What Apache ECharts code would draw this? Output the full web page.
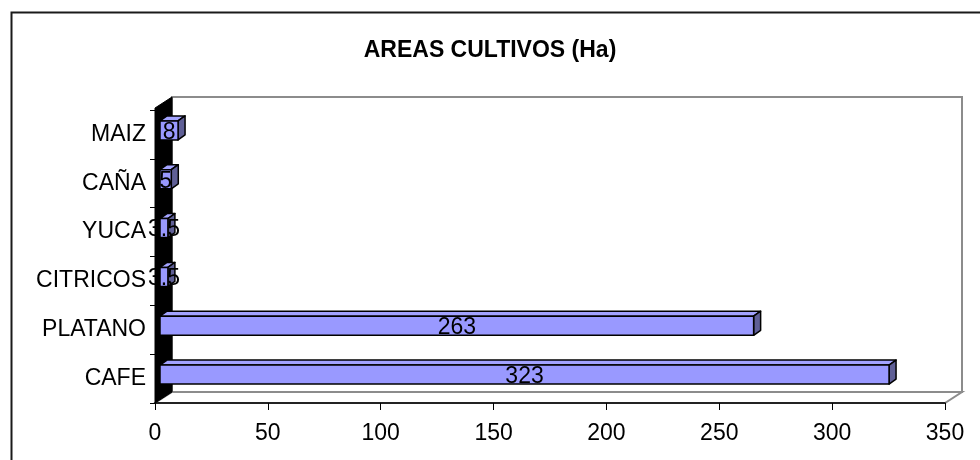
<!DOCTYPE html>
<html>
<head>
<meta charset="utf-8">
<style>
  html, body { margin: 0; padding: 0; background: #fff; }
  #chart { width: 980px; height: 460px; }
</style>
<script src="https://cdn.jsdelivr.net/npm/echarts@6/dist/echarts.min.js"></script>
</head>
<body>
<div id="chart"></div>
<script>
// Crop areas in hectares
const titleText = 'AREAS CULTIVOS (Ha)';
const categories = ['CAFE', 'PLATANO', 'CITRICOS', 'YUCA', 'CAÑA', 'MAIZ'];
const areas = [323, 263, 3.5, 3.5, 5, 8];
const axisMin = 0;
const axisMax = 350;
const axisStep = 50;

const FONT = '"Liberation Sans", Arial, sans-serif';
const TEXT_SIZE = 23;
// depth of the 3D box (floor / side wall) and of each bar
const DEPTH = [17, -11];
const BAR_SHIFT = [5, -4];
const BAR_DEPTH = [7, -5];

const chart = echarts.init(document.getElementById('chart'));

function renderWalls(params, api) {
  const cs = params.coordSys;
  const x0 = cs.x, x1 = cs.x + cs.width;
  const top = cs.y, bottom = cs.y + cs.height;
  const dx = DEPTH[0], dy = DEPTH[1];
  const gray = { fill: '#fff', stroke: '#8c8c8c', lineWidth: 2 };
  return {
    type: 'group',
    children: [
      { type: 'polygon', shape: { points: [[x0 + dx, top + dy - 2], [x1 + dx, top + dy - 2], [x1 + dx, bottom + dy], [x0 + dx, bottom + dy]] }, style: gray },
      { type: 'polygon', shape: { points: [[x0, bottom], [x1, bottom], [x1 + dx, bottom + dy], [x0 + dx, bottom + dy]] }, style: gray },
      { type: 'polygon', shape: { points: [[x0, top - 2], [x0 + dx, top + dy - 2], [x0 + dx, bottom + dy], [x0, bottom]] }, style: { fill: '#000', stroke: '#000', lineWidth: 1 } }
    ]
  };
}

function renderBar(params, api) {
  const v = api.value(0);
  const idx = api.value(1);
  const start = api.coord([axisMin, idx]);
  const end = api.coord([v, idx]);
  const band = api.size([0, 1])[1];
  const h = band * 0.39;
  const L = start[0] + BAR_SHIFT[0];
  const R = end[0] + BAR_SHIFT[0];
  const T = start[1] - h / 2 + BAR_SHIFT[1];
  const B = start[1] + h / 2 + BAR_SHIFT[1];
  const bx = BAR_DEPTH[0], by = BAR_DEPTH[1];
  const edge = { stroke: '#000', lineWidth: 1.5, lineJoin: 'round' };
  return {
    type: 'group',
    children: [
      { type: 'polygon', shape: { points: [[L, T], [R, T], [R + bx, T + by], [L + bx, T + by]] }, style: Object.assign({ fill: '#a3a3ff' }, edge) },
      { type: 'polygon', shape: { points: [[R, T], [R + bx, T + by], [R + bx, B + by], [R, B]] }, style: Object.assign({ fill: '#5f5f96' }, edge) },
      { type: 'rect', shape: { x: L, y: T, width: R - L, height: B - T }, style: Object.assign({ fill: '#9999ff' }, edge) },
      { type: 'text', style: { x: (L + R) / 2, y: (T + B) / 2 + 2, text: String(v), fill: '#000', font: TEXT_SIZE + 'px ' + FONT, align: 'center', verticalAlign: 'middle' } }
    ]
  };
}

chart.setOption({
  animation: false,
  backgroundColor: '#fff',
  title: {
    text: titleText,
    left: 'center',
    top: 34,
    textStyle: { fontFamily: FONT, fontSize: 23, fontWeight: 'bold', color: '#000' }
  },
  graphic: [
    { type: 'rect', left: 9, top: 10, shape: { width: 1000, height: 500 }, style: { fill: 'none', stroke: '#1a1a1a', lineWidth: 2 }, silent: true }
  ],
  grid: { left: 155, right: 35, top: 110, bottom: 57 },
  xAxis: {
    type: 'value',
    min: axisMin,
    max: axisMax,
    interval: axisStep,
    splitLine: { show: false },
    axisLine: { show: true, lineStyle: { color: '#000', width: 1.5 } },
    axisTick: { show: true, length: 7, inside: false, lineStyle: { color: '#000' } },
    axisLabel: { margin: 19, fontFamily: FONT, fontSize: TEXT_SIZE, color: '#000' }
  },
  yAxis: {
    type: 'category',
    data: categories,
    axisLine: { show: true, lineStyle: { color: '#000' } },
    axisTick: { show: true, length: 5, lineStyle: { color: '#000' } },
    axisLabel: { margin: 9, fontFamily: FONT, fontSize: TEXT_SIZE, color: '#000' }
  },
  series: [
    {
      type: 'custom',
      z: -1,
      silent: true,
      renderItem: renderWalls,
      data: [[axisMin, 0]]
    },
    {
      type: 'custom',
      z: 3,
      renderItem: renderBar,
      encode: { x: 0, y: 1 },
      data: areas.map((v, i) => [v, i])
    }
  ]
});
</script>
</body>
</html>
